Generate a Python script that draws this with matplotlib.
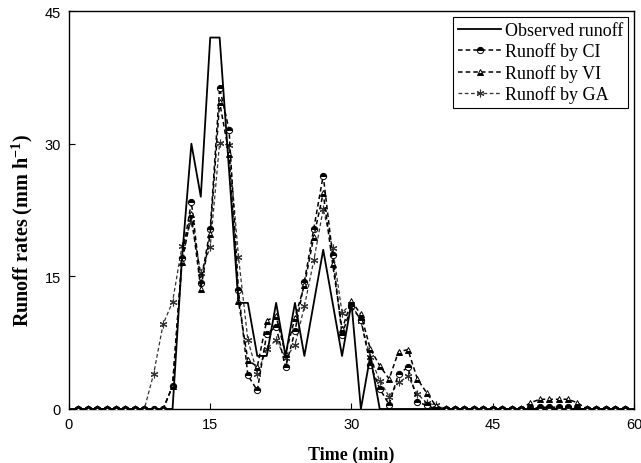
import numpy as np
import matplotlib.pyplot as plt

# time axis (min)
t_obs = list(range(0, 61))
t_sim = list(range(1, 60))

# observed runoff, 0..60 min
observed = [0, 0, 0, 0, 0, 0, 0, 0, 0, 0, 0, 0, 17, 30, 24, 42, 42, 27, 12, 12,
            6, 6, 12, 6, 12, 6, 12, 18, 12, 6, 12, 0, 6, 0, 0, 0, 0, 0, 0, 0,
            0, 0, 0, 0, 0, 0, 0, 0, 0, 0, 0, 0, 0, 0, 0, 0, 0, 0, 0, 0, 0]

# simulated runoff, 1..59 min
runoff_ci = [0, 0, 0, 0, 0, 0, 0, 0, 0, 0, 2.6, 17.1, 23.4, 14.3, 20.3, 36.3, 31.6, 13.4, 3.8, 2.1,
             8.5, 9.3, 4.7, 8.8, 14.4, 20.4, 26.4, 17.4, 8.4, 11.6, 10.1, 5.0, 2.3, 0.5, 4.0, 4.7, 0.8, 0.4, 0, 0,
             0, 0, 0, 0, 0, 0, 0, 0, 0, 0.2, 0.2, 0.2, 0.2, 0, 0, 0, 0, 0, 0]
runoff_vi = [0, 0, 0, 0, 0, 0, 0, 0, 0, 0, 2.6, 16.6, 22.0, 13.6, 19.8, 34.7, 28.8, 12.2, 5.5, 4.8,
             10.0, 10.5, 6.2, 10.3, 14.0, 19.5, 24.4, 16.4, 9.0, 12.2, 10.7, 6.8, 4.9, 3.4, 6.5, 6.7, 3.4, 1.8, 0.3, 0,
             0, 0, 0, 0, 0, 0, 0, 0, 0.7, 1.1, 1.1, 1.1, 1.1, 0.7, 0, 0, 0, 0, 0]
runoff_ga = [0, 0, 0, 0, 0, 0, 0, 0, 4.0, 9.6, 12.1, 18.4, 21.2, 15.4, 18.3, 30.1, 29.8, 17.2, 7.8, 4.0,
             6.8, 7.8, 5.8, 7.2, 11.6, 16.8, 22.6, 18.2, 10.9, 11.9, 9.9, 5.9, 3.2, 1.4, 3.0, 3.7, 1.7, 0.7, 0.4, 0,
             0, 0, 0, 0, 0, 0, 0, 0, 0, 0, 0, 0, 0, 0, 0, 0, 0, 0, 0]

x_ticks = [0, 15, 30, 45, 60]
y_ticks = [0, 15, 30, 45]

plt.rcParams['font.family'] = ['Liberation Sans', 'DejaVu Sans']
plt.rcParams['mathtext.fontset'] = 'custom'
plt.rcParams['mathtext.rm'] = 'Liberation Serif'
plt.rcParams['mathtext.bf'] = 'Liberation Serif:bold'

fig = plt.figure(figsize=(6.41, 4.64), dpi=100)
ax = fig.add_axes([0.1076, 0.1164, 0.8814, 0.8577])

ax.plot(t_obs, observed, color='black', lw=1.3, label='Observed runoff', zorder=4)
ax.plot(t_sim, runoff_ci, color='black', lw=1.1, dashes=(3, 2), marker='o', ms=4.5,
        fillstyle='top', markerfacecolor='black', markerfacecoloralt='white',
        markeredgecolor='black', markeredgewidth=0.7, label='Runoff by CI', zorder=3)
ax.plot(t_sim, runoff_vi, color='black', lw=1.1, dashes=(3, 2), marker='^', ms=4.5,
        fillstyle='bottom', markerfacecolor='black', markerfacecoloralt='white',
        markeredgecolor='black', markeredgewidth=0.7, label='Runoff by VI', zorder=3)
ax.plot(t_sim, runoff_ga, color='#333333', lw=0.9, dashes=(3, 2), marker=(6, 2, 0), ms=5.5,
        markeredgecolor='#333333', markeredgewidth=0.8, label='Runoff by GA', zorder=2)

ax.set_xlim(0, 60)
ax.set_ylim(0, 45)
ax.set_xticks(x_ticks)
ax.set_yticks(y_ticks)
ax.tick_params(direction='in', length=4, width=0.8, labelsize=10.5, pad=6)
for s in ax.spines.values():
    s.set_linewidth(1.0)

ax.set_xlabel('Time (min)', family='Liberation Serif', fontweight='bold', fontsize=13, labelpad=10)
ax.set_ylabel(r'Runoff rates (mm h$^{\mathbf{-1}}$)', family='Liberation Serif',
              fontweight='bold', fontsize=14.5)
ax.yaxis.set_label_coords(-0.06, 0.45)

leg = ax.legend(loc='upper right', prop={'family': 'Liberation Serif', 'size': 13},
                frameon=True, fancybox=False, edgecolor='black', framealpha=1,
                borderaxespad=0.35, borderpad=0.25, labelspacing=0.2,
                handlelength=2.4, handletextpad=0.2, numpoints=1)
leg.get_frame().set_linewidth(0.8)

fig.savefig('out.png', dpi=100)
